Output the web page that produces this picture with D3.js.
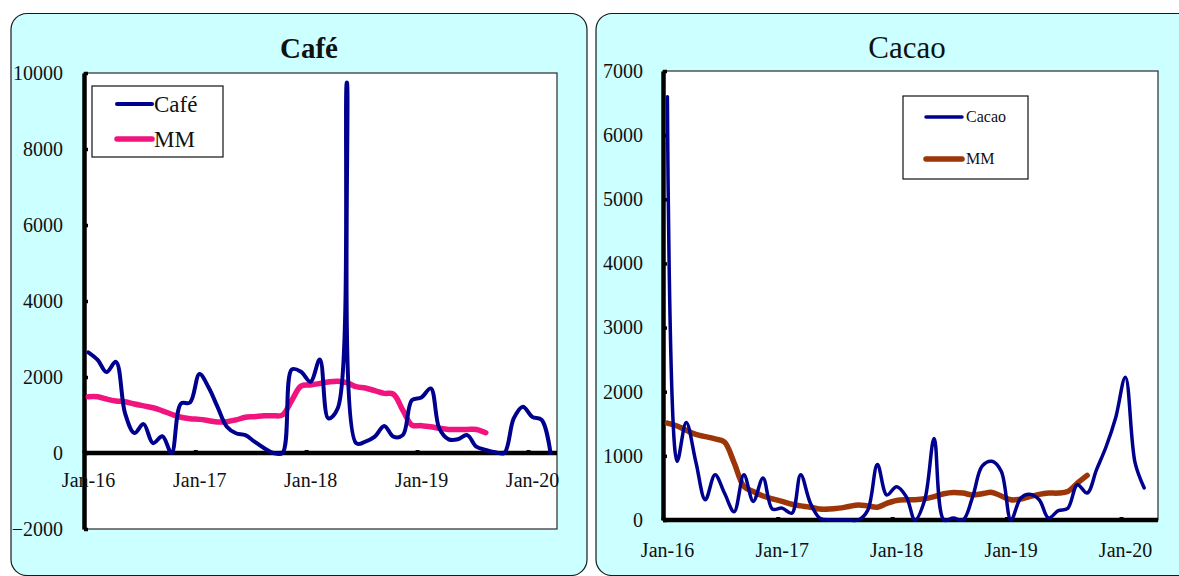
<!DOCTYPE html>
<html>
<head>
<meta charset="utf-8">
<script src="https://cdn.jsdelivr.net/npm/d3@7"></script>
<style>
  html, body { margin: 0; padding: 0; background: #ffffff; }
  svg { display: block; }
</style>
</head>
<body>
<svg id="chart" width="1179" height="576"></svg>
<script>
// ---------------- DATA ----------------
const startYear = 2016;
const tickYears = [2016, 2017, 2018, 2019, 2020];
const tickLabels = ["Jan-16", "Jan-17", "Jan-18", "Jan-19", "Jan-20"];

const cafeTitle = "Café";
const cafeSeriesNames = ["Café", "MM"];
const cafeValues = [2650, 2450, 2130, 2400, 1050, 525, 760, 260, 440, 0,
  1300, 1330, 2080, 1710, 1220, 690, 520, 470, 300, 130,
  0, 0, 2200, 2140, 1875, 2460, 910, 1175, 9750, 255,
  300, 430, 710, 430, 470, 1390, 1460, 1700, 650, 360,
  360, 470, 165, 80, 20, 0, 910, 1220, 950, 870, 0];
const cafeMM = [1480, 1480, 1420, 1370, 1350, 1290, 1240, 1190, 1110, 1020,
  940, 900, 885, 850, 815, 825, 870, 940, 955, 980,
  980, 1000, 1390, 1760, 1790, 1830, 1870, 1890, 1850, 1745,
  1710, 1640, 1570, 1550, 1130, 735, 720, 690, 650, 620,
  620, 620, 620, 535];
const cafeYTicks = [-2000, 0, 2000, 4000, 6000, 8000, 10000];

const cacaoTitle = "Cacao";
const cacaoSeriesNames = ["Cacao", "MM"];
const cacaoValues = [6600, 915, 1520, 900, 315, 705, 420, 130, 705, 290,
  655, 170, 185, 105, 705, 265, 30, 0, 0, 0,
  0, 150, 865, 390, 520, 365, 0, 315, 1270, 0,
  30, 0, 365, 840, 915, 760, 0, 340, 400, 315,
  30, 145, 180, 550, 420, 785, 1150, 1595, 2225, 890, 500];
const cacaoMM = [1510, 1465, 1400, 1335, 1300, 1265, 1215, 890, 525, 445,
  375, 330, 290, 245, 220, 200, 170, 170, 185, 210,
  235, 220, 200, 260, 305, 315, 315, 330, 365, 410,
  430, 420, 390, 410, 430, 375, 315, 325, 365, 400,
  420, 420, 445, 575, 695];
const cacaoYTicks = [0, 1000, 2000, 3000, 4000, 5000, 6000, 7000];

// ---------------- DRAWING ----------------
const svg = d3.select("#chart");
const FONT = "'Liberation Serif', 'Times New Roman', serif";
const NAVY = "#00008f";

function monthDate(i) { return new Date(startYear, i, 15); }

function drawPanel(cfg) {
  const g = svg.append("g");
  g.append("rect")
    .attr("x", cfg.panel.x).attr("y", cfg.panel.y)
    .attr("width", cfg.panel.w).attr("height", cfg.panel.h)
    .attr("rx", 16).attr("ry", 16)
    .attr("fill", "#ccffff").attr("stroke", "#1a1a1a").attr("stroke-width", 1.2);

  g.append("text")
    .attr("x", cfg.titleX).attr("y", 58)
    .attr("text-anchor", "middle")
    .attr("font-family", FONT).attr("font-size", cfg.titleSize)
    .attr("font-weight", cfg.titleBold ? "bold" : "normal")
    .attr("fill", "#111")
    .text(cfg.title);

  const p = cfg.plot;
  const x = d3.scaleTime()
    .domain([new Date(tickYears[0], 0, 1), new Date(tickYears[tickYears.length - 1], 0, 1)])
    .range([p.x0, p.xTickEnd]);
  const y = d3.scaleLinear().domain(cfg.yDomain).range([p.y1, p.y0]);

  g.append("rect")
    .attr("x", p.x0).attr("y", p.y0)
    .attr("width", p.x1 - p.x0).attr("height", p.y1 - p.y0)
    .attr("fill", "#ffffff").attr("stroke", "#3a3a3a").attr("stroke-width", 1.3);

  const tickDates = tickYears.map(yr => new Date(yr, 0, 1));
  const xAxis = d3.axisBottom(x)
    .tickValues(tickDates)
    .tickFormat((d, i) => tickLabels[i])
    .tickSize(-3).tickSizeOuter(0);
  const xg = g.append("g")
    .attr("transform", `translate(0,${y(0)})`)
    .call(xAxis);
  xg.select(".domain").attr("d", `M${p.x0},0H${p.x1}`)
    .attr("stroke", "#000").attr("stroke-width", 4.5);
  xg.selectAll(".tick line").attr("stroke", "#000").attr("stroke-width", 4);
  xg.selectAll(".tick text")
    .attr("y", cfg.xLabelDy).attr("dy", 0).attr("dx", 4)
    .attr("font-family", FONT).attr("font-size", 20).attr("fill", "#111");

  const yAxis = d3.axisLeft(y)
    .tickValues(cfg.yTicks)
    .tickFormat(d3.format("d"))
    .tickSize(-4).tickSizeOuter(0).tickPadding(cfg.yLabelPad);
  const yg = g.append("g")
    .attr("transform", `translate(${p.x0},0)`)
    .call(yAxis);
  yg.select(".domain").attr("stroke", "#000").attr("stroke-width", 4.5);
  yg.selectAll(".tick line").attr("stroke", "#000").attr("stroke-width", 3.5);
  yg.selectAll(".tick text")
    .attr("font-family", FONT).attr("font-size", 20).attr("fill", "#111");
  xg.raise();
  yg.select(".domain").raise();

  const line = d3.line()
    .x((d, i) => x(monthDate(i)))
    .y(d => y(d))
    .curve(d3.curveCatmullRom.alpha(0.5));

  g.append("path").datum(cfg.mm)
    .attr("d", line).attr("fill", "none")
    .attr("stroke", cfg.mmColor).attr("stroke-width", cfg.mmWidth)
    .attr("stroke-linecap", "round").attr("stroke-linejoin", "round");
  g.append("path").datum(cfg.values)
    .attr("d", line).attr("fill", "none")
    .attr("stroke", NAVY).attr("stroke-width", cfg.lineWidth)
    .attr("stroke-linecap", "round").attr("stroke-linejoin", "round");

  const L = cfg.legend;
  const lg = g.append("g");
  lg.append("rect")
    .attr("x", L.x).attr("y", L.y).attr("width", L.w).attr("height", L.h)
    .attr("fill", "#fff").attr("stroke", "#111").attr("stroke-width", 1.2);
  const colors = [NAVY, cfg.mmColor];
  const widths = [cfg.lineWidth, cfg.mmWidth];
  cfg.names.forEach((nm, i) => {
    const ly = L.rows[i];
    lg.append("line")
      .attr("x1", L.lx0).attr("x2", L.lx1).attr("y1", ly).attr("y2", ly)
      .attr("stroke", colors[i]).attr("stroke-width", widths[i])
      .attr("stroke-linecap", "round");
    lg.append("text")
      .attr("x", L.tx).attr("y", ly + L.textDy)
      .attr("font-family", FONT).attr("font-size", L.fontSize).attr("fill", "#111")
      .text(nm);
  });
}

drawPanel({
  panel: { x: 11, y: 13.5, w: 576, h: 562 },
  title: cafeTitle, titleX: 309, titleSize: 29, titleBold: true,
  plot: { x0: 84, x1: 557, y0: 73, y1: 529, xTickEnd: 528 },
  yDomain: [-2000, 10000], yTicks: cafeYTicks,
  yLabelPad: 21, xLabelDy: 34,
  values: cafeValues, mm: cafeMM,
  mmColor: "#f0147f", mmWidth: 5.5, lineWidth: 4,
  names: cafeSeriesNames,
  legend: { x: 92, y: 86, w: 131, h: 71, lx0: 117, lx1: 152, tx: 154,
            rows: [104, 139], textDy: 8, fontSize: 23 }
});

drawPanel({
  panel: { x: 596, y: 13.5, w: 620, h: 562 },
  title: cacaoTitle, titleX: 907, titleSize: 31, titleBold: false,
  plot: { x0: 663, x1: 1158, y0: 71, y1: 520, xTickEnd: 1121 },
  yDomain: [0, 7000], yTicks: cacaoYTicks,
  yLabelPad: 20, xLabelDy: 37,
  values: cacaoValues, mm: cacaoMM,
  mmColor: "#9c3608", mmWidth: 5.5, lineWidth: 3.5,
  names: cacaoSeriesNames,
  legend: { x: 903, y: 96, w: 125, h: 83, lx0: 926, lx1: 962, tx: 966,
            rows: [117, 159], textDy: 5, fontSize: 16 }
});
</script>
</body>
</html>
